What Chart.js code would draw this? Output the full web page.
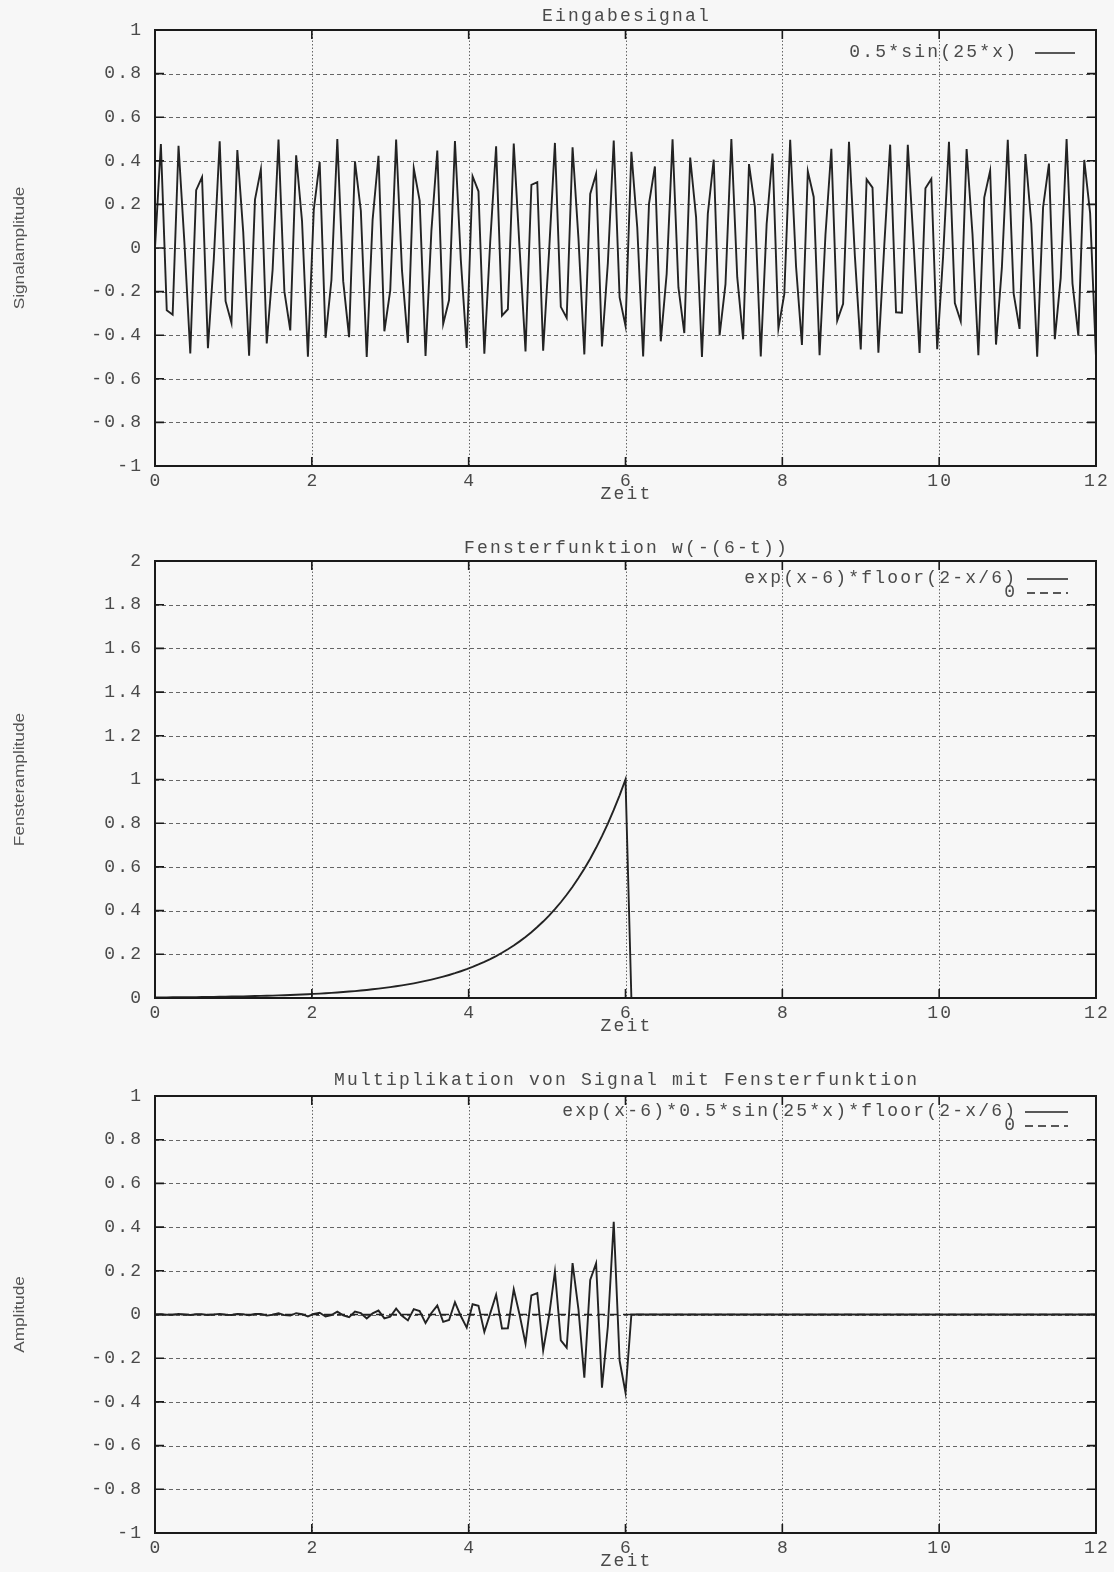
<!DOCTYPE html>
<html>
<head>
<meta charset="utf-8">
<title>Eingabesignal / Fensterfunktion</title>
<script src="https://cdn.jsdelivr.net/npm/chart.js@4.4.1/dist/chart.umd.min.js"></script>
<style>
  html, body { margin: 0; padding: 0; background: #f7f7f7; }
  #page { position: relative; width: 1114px; height: 1572px; overflow: hidden; }
  canvas { position: absolute; left: 0; }
</style>
</head>
<body>
<div id="page">
  <canvas id="c1" width="1114" height="531" style="top:0px"></canvas>
  <canvas id="c2" width="1114" height="535" style="top:531px"></canvas>
  <canvas id="c3" width="1114" height="506" style="top:1066px"></canvas>
</div>
<script>
// 161 samples on [0, 12]
const sampleStep = 0.075;

const signal = [
  0, 0.477, -0.286, -0.306, 0.469, 0.025, -0.484, 0.265, 0.325, -0.460,
  -0.050, 0.490, -0.244, -0.344, 0.449, 0.074, -0.494, 0.222, 0.361, -0.438,
  -0.099, 0.497, -0.199, -0.378, 0.425, 0.123, -0.499, 0.176, 0.394, -0.412,
  -0.147, 0.500, -0.152, -0.409, 0.397, 0.171, -0.500, 0.129, 0.423, -0.382,
  -0.194, 0.498, -0.104, -0.435, 0.365, 0.217, -0.495, 0.080, 0.447, -0.348,
  -0.239, 0.491, -0.055, -0.458, 0.329, 0.260, -0.485, 0.030, 0.467, -0.310,
  -0.281, 0.479, -0.006, -0.475, 0.290, 0.302, -0.471, -0.019, 0.482, -0.270,
  -0.321, 0.462, 0.044, -0.488, 0.248, 0.340, -0.452, -0.069, 0.493, -0.227,
  -0.357, 0.441, 0.094, -0.497, 0.204, 0.374, -0.428, -0.118, 0.499, -0.181,
  -0.390, 0.415, 0.142, -0.500, 0.158, 0.405, -0.401, -0.166, 0.500, -0.134,
  -0.419, 0.385, 0.189, -0.498, 0.110, 0.433, -0.369, -0.212, 0.496, -0.085,
  -0.445, 0.352, 0.234, -0.492, 0.061, 0.455, -0.333, -0.256, 0.487, -0.036,
  -0.465, 0.315, 0.277, -0.480, 0.011, 0.474, -0.295, -0.297, 0.473, 0.014,
  -0.481, 0.274, 0.317, -0.464, -0.039, 0.487, -0.253, -0.336, 0.454, 0.063,
  -0.492, 0.231, 0.354, -0.443, -0.088, 0.496, -0.209, -0.371, 0.431, 0.112,
  -0.499, 0.186, 0.387, -0.418, -0.137, 0.500, -0.163, -0.402, 0.404, 0.160,
  -0.500
];

// Fensterfunktion exp(x-6)*floor(2-x/6)
const windowFn = [
  0.0025, 0.0027, 0.0029, 0.0031, 0.0033, 0.0036, 0.0039, 0.0042, 0.0045, 0.0049,
  0.0052, 0.0057, 0.0061, 0.0066, 0.0071, 0.0076, 0.0082, 0.0089, 0.0096, 0.0103,
  0.0111, 0.0120, 0.0129, 0.0139, 0.0150, 0.0162, 0.0174, 0.0188, 0.0202, 0.0218,
  0.0235, 0.0254, 0.0273, 0.0295, 0.0317, 0.0342, 0.0369, 0.0398, 0.0429, 0.0462,
  0.0498, 0.0537, 0.0578, 0.0624, 0.0672, 0.0724, 0.0781, 0.0842, 0.0907, 0.0978,
  0.1054, 0.1136, 0.1225, 0.1320, 0.1423, 0.1534, 0.1653, 0.1782, 0.1920, 0.2070,
  0.2231, 0.2405, 0.2592, 0.2794, 0.3012, 0.3247, 0.3499, 0.3772, 0.4066, 0.4382,
  0.4724, 0.5092, 0.5488, 0.5916, 0.6376, 0.6873, 0.7408, 0.7985, 0.8607, 0.9277,
  1.0000,
  0, 0, 0, 0, 0, 0, 0, 0, 0, 0, 0, 0, 0, 0, 0, 0, 0, 0, 0, 0,
  0, 0, 0, 0, 0, 0, 0, 0, 0, 0, 0, 0, 0, 0, 0, 0, 0, 0, 0, 0,
  0, 0, 0, 0, 0, 0, 0, 0, 0, 0, 0, 0, 0, 0, 0, 0, 0, 0, 0, 0,
  0, 0, 0, 0, 0, 0, 0, 0, 0, 0, 0, 0, 0, 0, 0, 0, 0, 0, 0, 0
];

// Signal * Fenster
const product = [
  0, 0.001, -0.001, -0.001, 0.002, 0, -0.002, 0.001, 0.001, -0.002,
  0, 0.003, -0.001, -0.002, 0.003, 0.001, -0.004, 0.002, 0.003, -0.005,
  -0.001, 0.006, -0.003, -0.005, 0.006, 0.002, -0.009, 0.003, 0.008, -0.009,
  -0.003, 0.013, -0.004, -0.012, 0.013, 0.006, -0.018, 0.005, 0.018, -0.018,
  -0.010, 0.027, -0.006, -0.027, 0.025, 0.016, -0.039, 0.007, 0.041, -0.034,
  -0.025, 0.056, -0.007, -0.060, 0.047, 0.040, -0.080, 0.005, 0.090, -0.064,
  -0.063, 0.115, -0.002, -0.133, 0.087, 0.098, -0.165, -0.007, 0.196, -0.118,
  -0.152, 0.235, 0.024, -0.289, 0.158, 0.234, -0.335, -0.055, 0.424, -0.211,
  -0.357,
  0, 0, 0, 0, 0, 0, 0, 0, 0, 0, 0, 0, 0, 0, 0, 0, 0, 0, 0, 0,
  0, 0, 0, 0, 0, 0, 0, 0, 0, 0, 0, 0, 0, 0, 0, 0, 0, 0, 0, 0,
  0, 0, 0, 0, 0, 0, 0, 0, 0, 0, 0, 0, 0, 0, 0, 0, 0, 0, 0, 0,
  0, 0, 0, 0, 0, 0, 0, 0, 0, 0, 0, 0, 0, 0, 0, 0, 0, 0, 0, 0
];

// the "0" curve
const zeroX = [0, 12];
const zeroY = [0, 0];

const timeTicks = [0, 2, 4, 6, 8, 10, 12];
const amplitudeTicks = [-1, -0.8, -0.6, -0.4, -0.2, 0, 0.2, 0.4, 0.6, 0.8, 1];
const windowTicks = [0, 0.2, 0.4, 0.6, 0.8, 1, 1.2, 1.4, 1.6, 1.8, 2];

const panelTitles = ['Eingabesignal', 'Fensterfunktion w(-(6-t))', 'Multiplikation von Signal mit Fensterfunktion'];
const yTitles = ['Signalamplitude', 'Fensteramplitude', 'Amplitude'];
const xTitle = 'Zeit';
const legendLabels = [
  ['0.5*sin(25*x)'],
  ['exp(x-6)*floor(2-x/6)', '0'],
  ['exp(x-6)*0.5*sin(25*x)*floor(2-x/6)', '0']
];

const monoFont = '18px "Liberation Mono", "Courier New", monospace';
const spacing = 2.2;
const textColor = '#4a4a4a';
const curveColor = '#232323';

function toPoints(values) {
  return values.map((v, i) => ({ x: i * sampleStep, y: v }));
}
function zeroPoints() {
  return zeroX.map((x, i) => ({ x: x, y: zeroY[i] }));
}
function fmt(v) {
  return String(Number(v.toFixed(1)));
}

// gnuplot-like typewriter text
function monoText(ctx, str, x, y, align) {
  ctx.font = monoFont;
  ctx.letterSpacing = spacing + 'px';
  ctx.textAlign = align;
  ctx.textBaseline = 'middle';
  let dx = 0;
  if (align === 'right') dx = spacing;
  if (align === 'center') dx = spacing / 2;
  ctx.fillText(str, x + dx, y);
  ctx.letterSpacing = '0px';
}

function framePlugin(cfg) {
  return {
    id: 'gpFrame',
    beforeDatasetsDraw(chart) {
      const ctx = chart.ctx, a = chart.chartArea;
      const x = chart.scales.x, y = chart.scales.y;
      ctx.save();
      ctx.strokeStyle = '#666';
      ctx.lineWidth = 1;
      ctx.setLineDash([4, 3]);
      cfg.yTicks.slice(1, -1).forEach(v => {
        const py = Math.round(y.getPixelForValue(v)) + 0.5;
        ctx.beginPath(); ctx.moveTo(a.left, py); ctx.lineTo(a.right, py); ctx.stroke();
      });
      ctx.setLineDash([1.5, 2]);
      timeTicks.slice(1, -1).forEach(v => {
        const px = Math.round(x.getPixelForValue(v)) + 0.5;
        ctx.beginPath(); ctx.moveTo(px, a.top); ctx.lineTo(px, a.bottom); ctx.stroke();
      });
      ctx.restore();
    },
    afterDatasetsDraw(chart) {
      const ctx = chart.ctx, a = chart.chartArea;
      const x = chart.scales.x, y = chart.scales.y;
      ctx.save();
      // border and inward ticks
      ctx.setLineDash([]);
      ctx.strokeStyle = '#1a1a1a';
      ctx.lineWidth = 2;
      ctx.strokeRect(a.left, a.top, a.right - a.left, a.bottom - a.top);
      ctx.lineWidth = 1.6;
      cfg.yTicks.slice(1, -1).forEach(v => {
        const py = y.getPixelForValue(v);
        ctx.beginPath();
        ctx.moveTo(a.left, py); ctx.lineTo(a.left + 9, py);
        ctx.moveTo(a.right, py); ctx.lineTo(a.right - 9, py);
        ctx.stroke();
      });
      timeTicks.slice(1, -1).forEach(v => {
        const px = x.getPixelForValue(v);
        ctx.beginPath();
        ctx.moveTo(px, a.top); ctx.lineTo(px, a.top + 9);
        ctx.moveTo(px, a.bottom); ctx.lineTo(px, a.bottom - 9);
        ctx.stroke();
      });

      // tick labels
      ctx.fillStyle = textColor;
      cfg.yTicks.forEach(v => monoText(ctx, fmt(v), a.left - 14, y.getPixelForValue(v), 'right'));
      timeTicks.forEach(v => monoText(ctx, fmt(v), x.getPixelForValue(v), a.bottom + 15, 'center'));
      monoText(ctx, xTitle, (a.left + a.right) / 2, a.bottom + 28, 'center');
      monoText(ctx, cfg.title, (a.left + a.right) / 2, a.top - cfg.titleGap, 'center');

      // y title, rotated
      ctx.save();
      ctx.translate(20, (a.top + a.bottom) / 2);
      ctx.rotate(-Math.PI / 2);
      ctx.scale(1.15, 1);
      ctx.font = '15px "Liberation Sans", Arial, sans-serif';
      ctx.textAlign = 'center';
      ctx.textBaseline = 'middle';
      ctx.fillStyle = '#555';
      ctx.fillText(cfg.yTitle, 0, 0);
      ctx.restore();

      // key
      cfg.legend.forEach((label, i) => {
        const ly = a.top + cfg.legendTop + i * 14;
        ctx.fillStyle = textColor;
        monoText(ctx, label, a.right - cfg.legendTextGap, ly, 'right');
        ctx.strokeStyle = curveColor;
        ctx.lineWidth = 1.6;
        ctx.setLineDash(i === 0 ? [] : [8, 5]);
        ctx.beginPath();
        ctx.moveTo(a.right - cfg.sample[0], ly + 1);
        ctx.lineTo(a.right - cfg.sample[1], ly + 1);
        ctx.stroke();
      });
      ctx.restore();
    }
  };
}

function makePanel(canvasId, datasets, cfg) {
  return new Chart(document.getElementById(canvasId), {
    type: 'line',
    data: { datasets: datasets },
    options: {
      responsive: false,
      animation: false,
      events: [],
      layout: { padding: cfg.padding },
      plugins: { legend: { display: false }, tooltip: { enabled: false } },
      scales: {
        x: { type: 'linear', min: 0, max: 12, display: false },
        y: { type: 'linear', min: cfg.yTicks[0], max: cfg.yTicks[cfg.yTicks.length - 1], display: false }
      },
      elements: { point: { radius: 0 }, line: { tension: 0 } }
    },
    plugins: [framePlugin(cfg)]
  });
}

function curve(values) {
  return { data: toPoints(values), borderColor: curveColor, borderWidth: 1.9, fill: false };
}
function zeroCurve() {
  return { data: zeroPoints(), borderColor: curveColor, borderWidth: 1.5, borderDash: [8, 5], fill: false };
}

makePanel('c1', [curve(signal)], {
  padding: { left: 155, right: 18, top: 30, bottom: 65 },
  yTicks: amplitudeTicks, title: panelTitles[0], titleGap: 14, yTitle: yTitles[0],
  legend: legendLabels[0], legendTop: 22, legendTextGap: 80, sample: [61, 21]
});
makePanel('c2', [curve(windowFn), zeroCurve()], {
  padding: { left: 155, right: 18, top: 30, bottom: 68 },
  yTicks: windowTicks, title: panelTitles[1], titleGap: 13, yTitle: yTitles[1],
  legend: legendLabels[1], legendTop: 17, legendTextGap: 81, sample: [69, 28]
});
makePanel('c3', [curve(product), zeroCurve()], {
  padding: { left: 155, right: 18, top: 30, bottom: 39 },
  yTicks: amplitudeTicks, title: panelTitles[2], titleGap: 16, yTitle: yTitles[2],
  legend: legendLabels[2], legendTop: 15, legendTextGap: 81, sample: [71, 28]
});
</script>
</body>
</html>
